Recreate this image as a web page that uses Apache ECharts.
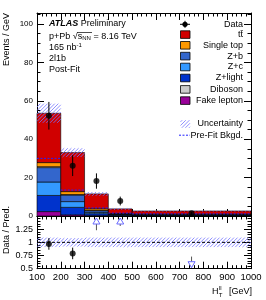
<!DOCTYPE html>
<html><head><meta charset="utf-8">
<script src="https://cdn.jsdelivr.net/npm/echarts@6/dist/echarts.min.js"></script>
<style>html,body{margin:0;padding:0;background:#fff}#c{width:266px;height:300px}</style>
</head><body><div id="c"></div>
<script>
// ---- data ----
const binEdges = [100, 200, 300, 400, 500, 1000];
const fakeLepton = [2.3, 0.6, 0.2, 0.1, 0.05];
const zLight = [8.4, 3.9, 1.0, 0.35, 0.3];
const zC = [7.0, 3.0, 0.7, 0.25, 0.15];
const zB = [7.5, 3.4, 0.9, 0.3, 0.25];
const diboson = [0.5, 0.3, 0.2, 0.05, 0.05];
const singleTop = [2.1, 1.5, 0.8, 0.25, 0.2];
const ttbar = [25.7, 20.3, 7.7, 2.4, 1.6];
const uncertainty = [5.0, 2.3, 1.0, 0.5, 0.3];
const preFitBkgd = [30.0, 13.5, 4.2, 1.5, 1.1];
const dataX = [150, 250, 350, 450, 750];
const dataY = [52.2, 26.2, 18.2, 7.8, 1.4];
const dataErr = [7.2, 5.4, 4.0, 2.3, 0.8];
const ratioX = [150, 250];
const ratioY = [0.97, 0.79];
const ratioErr = [0.11, 0.11];
const ratioUnc = [0.09, 0.08, 0.09, 0.09, 0.09];
const arrowX = [350, 450, 750];
const arrowFrom = [1.23, 1.31, 0.73];
const arrowDir = ['up', 'up', 'down'];
const xTicks = [100, 200, 300, 400, 500, 600, 700, 800, 900, 1000];
const yTicks = [0, 20, 40, 60, 80, 100];
const ratioTicks = [0.5, 0.75, 1, 1.25];
const legendNames = ['Data', 't\u0074\u0304', 'Single top', 'Z+b', 'Z+c', 'Z+light', 'Diboson', 'Fake lepton'];

const components = [
  {name: 'Fake lepton', vals: fakeLepton, color: '#990099'},
  {name: 'Z+light', vals: zLight, color: '#0033cc'},
  {name: 'Z+c', vals: zC, color: '#3399ff'},
  {name: 'Z+b', vals: zB, color: '#3366cc'},
  {name: 'Diboson', vals: diboson, color: '#cccccc'},
  {name: 'Single top', vals: singleTop, color: '#ff9900'},
  {name: 't\u0074\u0304', vals: ttbar, color: '#d00000'}
];
const FONT = '"Liberation Sans", Arial, sans-serif';
const HATCH = '#7373ff';

// hatch lines "/" inside a pixel rect
function hatchLines(x0, y0, x1, y1, step) {
  const out = [];
  const kStart = Math.ceil((x0 + y0) / step) * step;
  for (let k = kStart; k <= x1 + y1; k += step) {
    const xa = Math.max(x0, k - y1), xb = Math.min(x1, k - y0);
    if (xb <= xa) continue;
    out.push({type: 'line', shape: {x1: xa, y1: k - xa, x2: xb, y2: k - xb},
      style: {stroke: HATCH, lineWidth: 0.8}});
  }
  return out;
}

// stacked rects
const cum = binEdges.slice(0, -1).map(() => 0);
const series = [];
components.forEach(comp => {
  const d = comp.vals.map((v, i) => {
    const y0 = cum[i]; cum[i] += v;
    return [binEdges[i], binEdges[i + 1], y0, cum[i]];
  });
  series.push({
    type: 'custom', name: comp.name, xAxisIndex: 0, yAxisIndex: 0, data: d,
    encode: {x: [0, 1], y: [2, 3]},
    renderItem: (p, api) => {
      const a = api.coord([api.value(0), api.value(3)]);
      const b = api.coord([api.value(1), api.value(2)]);
      return {type: 'rect', shape: {x: a[0], y: a[1], width: b[0] - a[0], height: b[1] - a[1]},
        style: {fill: comp.color, stroke: '#000', lineWidth: 0.6}};
    }
  });
});
const totals = cum.slice();
const bandRender = (p, api) => {
  const a = api.coord([api.value(0), api.value(3)]);
  const b = api.coord([api.value(1), api.value(2)]);
  return {type: 'group', children: hatchLines(a[0], a[1], b[0], b[1], 3.6)};
};
// uncertainty band main
series.push({
  type: 'custom', xAxisIndex: 0, yAxisIndex: 0,
  data: totals.map((t, i) => [binEdges[i], binEdges[i + 1], t - uncertainty[i], t + uncertainty[i]]),
  encode: {x: [0, 1], y: [2, 3]},
  renderItem: bandRender
});
// pre-fit dashed
series.push({
  type: 'custom', xAxisIndex: 0, yAxisIndex: 0,
  data: preFitBkgd.map((v, i) => [binEdges[i], binEdges[i + 1], v]),
  encode: {x: [0, 1], y: 2},
  renderItem: (p, api) => {
    const a = api.coord([api.value(0), api.value(2)]);
    const b = api.coord([api.value(1), api.value(2)]);
    return {type: 'line', shape: {x1: a[0], y1: a[1], x2: b[0], y2: b[1]},
      style: {stroke: '#2020ff', lineWidth: 1, lineDash: [2, 1.5]}};
  }
});
// data error bars
series.push({
  type: 'custom', xAxisIndex: 0, yAxisIndex: 0,
  data: dataX.map((x, i) => [x, dataY[i] - dataErr[i], dataY[i] + dataErr[i]]),
  encode: {x: 0, y: [1, 2]},
  renderItem: (p, api) => {
    const a = api.coord([api.value(0), api.value(1)]);
    const b = api.coord([api.value(0), api.value(2)]);
    return {type: 'line', shape: {x1: a[0], y1: a[1], x2: b[0], y2: b[1]},
      style: {stroke: '#000', lineWidth: 1}};
  }
});
series.push({
  type: 'scatter', xAxisIndex: 0, yAxisIndex: 0, symbol: 'circle', symbolSize: 6,
  itemStyle: {color: '#000'}, data: dataX.map((x, i) => [x, dataY[i]])
});
// ratio band
series.push({
  type: 'custom', xAxisIndex: 2, yAxisIndex: 2,
  data: ratioUnc.map((u, i) => [binEdges[i], binEdges[i + 1], 1 - u, 1 + u]),
  encode: {x: [0, 1], y: [2, 3]},
  renderItem: bandRender
});
series.push({
  type: 'line', xAxisIndex: 2, yAxisIndex: 2, symbol: 'none',
  data: [[binEdges[0], 1], [binEdges[binEdges.length - 1], 1]],
  lineStyle: {color: '#000', width: 1, type: [3, 2]}
});
series.push({
  type: 'custom', xAxisIndex: 2, yAxisIndex: 2,
  data: ratioX.map((x, i) => [x, ratioY[i] - ratioErr[i], ratioY[i] + ratioErr[i]]),
  encode: {x: 0, y: [1, 2]},
  renderItem: (p, api) => {
    const a = api.coord([api.value(0), api.value(1)]);
    const b = api.coord([api.value(0), api.value(2)]);
    return {type: 'line', shape: {x1: a[0], y1: a[1], x2: b[0], y2: b[1]},
      style: {stroke: '#000', lineWidth: 1}};
  }
});
series.push({
  type: 'scatter', xAxisIndex: 2, yAxisIndex: 2, symbol: 'circle', symbolSize: 6,
  itemStyle: {color: '#000'}, data: ratioX.map((x, i) => [x, ratioY[i]])
});
// arrows
series.push({
  type: 'custom', xAxisIndex: 2, yAxisIndex: 2,
  data: arrowX.map((x, i) => [x, arrowFrom[i], arrowDir[i] === 'up' ? 1.5 : 0.5]),
  encode: {x: 0, y: [1, 2]},
  renderItem: (p, api) => {
    const a = api.coord([api.value(0), api.value(1)]);
    const b = api.coord([api.value(0), api.value(2)]);
    const up = b[1] < a[1];
    const tip = up ? b[1] + 2 : b[1] - 1;
    const base = up ? tip + 6 : tip - 6;
    return {type: 'group', children: [
      {type: 'line', shape: {x1: a[0], y1: a[1], x2: a[0], y2: base}, style: {stroke: '#555', lineWidth: 1}},
      {type: 'polygon', shape: {points: [[a[0], tip], [a[0] - 3.5, base], [a[0] + 3.5, base]]},
        style: {fill: '#fff', stroke: '#6a6aff', lineWidth: 1}}
    ]};
  }
});

const tickCommon = (len) => ({show: true, inside: true, length: len, lineStyle: {color: '#000', width: 1}});
const minorCommon = (n, len) => ({show: true, splitNumber: n, length: len, lineStyle: {color: '#000', width: 1}});
const axLine = {show: true, onZero: false, lineStyle: {color: '#000', width: 1}};
const lab = (size) => ({fontFamily: FONT, fontSize: size, color: '#000'});

function xAx(grid, pos, showLabel) {
  return {type: 'value', gridIndex: grid, position: pos, min: xTicks[0], max: xTicks[xTicks.length - 1], interval: 100,
    axisLine: axLine, axisTick: tickCommon(7), minorTick: minorCommon(5, 3.5), splitLine: {show: false},
    axisLabel: Object.assign({show: showLabel, margin: 4, hideOverlap: false,
      formatter: v => xTicks.includes(v) ? String(v) : ''}, lab(9.5))};
}
function yAx(grid, pos, showLabel, min, max, interval, minorN, ticks, size) {
  return {type: 'value', gridIndex: grid, position: pos, min, max, interval,
    axisLine: axLine, axisTick: tickCommon(7), minorTick: minorCommon(minorN, 3.5), splitLine: {show: false},
    axisLabel: Object.assign({show: showLabel, margin: 4,
      formatter: v => ticks.some(t => Math.abs(t - v) < 1e-9) ? String(v) : ''}, lab(size))};
}

// graphics: text & legend
const g = [];
g.push({type: 'text', left: 49, top: 19.5, style: {text: '{b|ATLAS} Preliminary', font: '9px ' + FONT, fill: '#000',
  rich: {b: {fontFamily: FONT, fontSize: 9, fontWeight: 'bold', fontStyle: 'italic'}}}});
g.push({type: 'text', left: 49, top: 32, style: {text: 'p+Pb \u221A{s|s}{sub|NN} = 8.16 TeV', font: '9px ' + FONT, fill: '#000',
  rich: {s: {fontFamily: FONT, fontSize: 9}, sub: {fontFamily: FONT, fontSize: 6, padding: [4, 0, 0, 0]}}}});
g.push({type: 'line', shape: {x1: 77, y1: 32.5, x2: 92, y2: 32.5}, style: {stroke: '#000', lineWidth: 0.7}});
g.push({type: 'text', left: 49, top: 42.5, style: {text: '165 nb{sup|-1}', font: '9px ' + FONT, fill: '#000',
  rich: {sup: {fontFamily: FONT, fontSize: 6, padding: [0, 0, 5, 0]}}}});
g.push({type: 'text', left: 49, top: 54.5, style: {text: '2l1b', font: '9px ' + FONT, fill: '#000'}});
g.push({type: 'text', left: 49, top: 65.5, style: {text: 'Post-Fit', font: '9px ' + FONT, fill: '#000'}});
// y titles
g.push({type: 'text', x: 7, y: 13, rotation: Math.PI / 2, style: {text: 'Events / GeV', font: '9px ' + FONT, fill: '#000',
  align: 'right', verticalAlign: 'middle'}});
g.push({type: 'text', x: 7, y: 230, rotation: Math.PI / 2, style: {text: 'Data / Pred.', font: '9px ' + FONT, fill: '#000',
  align: 'center', verticalAlign: 'middle'}});
// x title
g.push({type: 'text', x: 252, y: 292, style: {text: '[GeV]', font: '9px ' + FONT, fill: '#000', align: 'right', verticalAlign: 'middle'}});
g.push({type: 'text', x: 212, y: 292, style: {text: 'H', font: '9px ' + FONT, fill: '#000', align: 'left', verticalAlign: 'middle'}});
g.push({type: 'text', x: 218.8, y: 288.5, style: {text: 'll', font: '6px ' + FONT, fill: '#000', align: 'left', verticalAlign: 'middle'}});
g.push({type: 'text', x: 218.8, y: 295, style: {text: 'T', font: '6px ' + FONT, fill: '#000', align: 'left', verticalAlign: 'middle'}});
// legend
const legY = [24.3, 34.6, 45.3, 56.1, 67, 78, 89.4, 100.6];
const legColors = [null, '#d00000', '#ff9900', '#3366cc', '#3399ff', '#0033cc', '#cccccc', '#990099'];
legendNames.forEach((n, i) => {
  const y = legY[i];
  g.push({type: 'text', x: 243, y: y, style: {text: n, font: '9px ' + FONT, fill: '#000', align: 'right', verticalAlign: 'middle'}});
  if (i === 0) {
    g.push({type: 'line', shape: {x1: 180, y1: y, x2: 190, y2: y}, style: {stroke: '#000', lineWidth: 1}});
    g.push({type: 'line', shape: {x1: 185, y1: y - 3.5, x2: 185, y2: y + 3.5}, style: {stroke: '#000', lineWidth: 1}});
    g.push({type: 'circle', shape: {cx: 185, cy: y, r: 2.6}, style: {fill: '#000'}});
  } else {
    g.push({type: 'rect', shape: {x: 180.5, y: y - 3.8, width: 9.5, height: 7.6}, style: {fill: legColors[i], stroke: '#000', lineWidth: 0.8}});
  }
});
g.push({type: 'group', children: hatchLines(180.5, 120.2, 190, 127.8, 3.6)});
g.push({type: 'text', x: 243, y: 124, style: {text: 'Uncertainty', font: '9px ' + FONT, fill: '#000', align: 'right', verticalAlign: 'middle'}});
g.push({type: 'line', shape: {x1: 179, y1: 135.2, x2: 190, y2: 135.2}, style: {stroke: '#2020ff', lineWidth: 1, lineDash: [2, 1.5]}});
g.push({type: 'text', x: 243, y: 135.2, style: {text: 'Pre-Fit Bkgd.', font: '9px ' + FONT, fill: '#000', align: 'right', verticalAlign: 'middle'}});

const chart = echarts.init(document.getElementById('c'), null, {renderer: 'canvas'});
chart.setOption({
  animation: false,
  backgroundColor: '#fff',
  grid: [
    {left: 37, width: 214, top: 13, height: 203},
    {left: 37, width: 214, top: 216, height: 52.7}
  ],
  xAxis: [xAx(0, 'bottom', false), xAx(0, 'top', false), xAx(1, 'bottom', true), xAx(1, 'top', false)],
  yAxis: [
    yAx(0, 'left', true, 0, 105.7, 20, 4, yTicks, 8),
    yAx(0, 'right', false, 0, 105.7, 20, 4, yTicks, 8),
    yAx(1, 'left', true, 0.5, 1.5, 0.25, 5, ratioTicks, 9),
    yAx(1, 'right', false, 0.5, 1.5, 0.25, 5, ratioTicks, 9)
  ],
  series,
  graphic: g
});
</script></body></html>
